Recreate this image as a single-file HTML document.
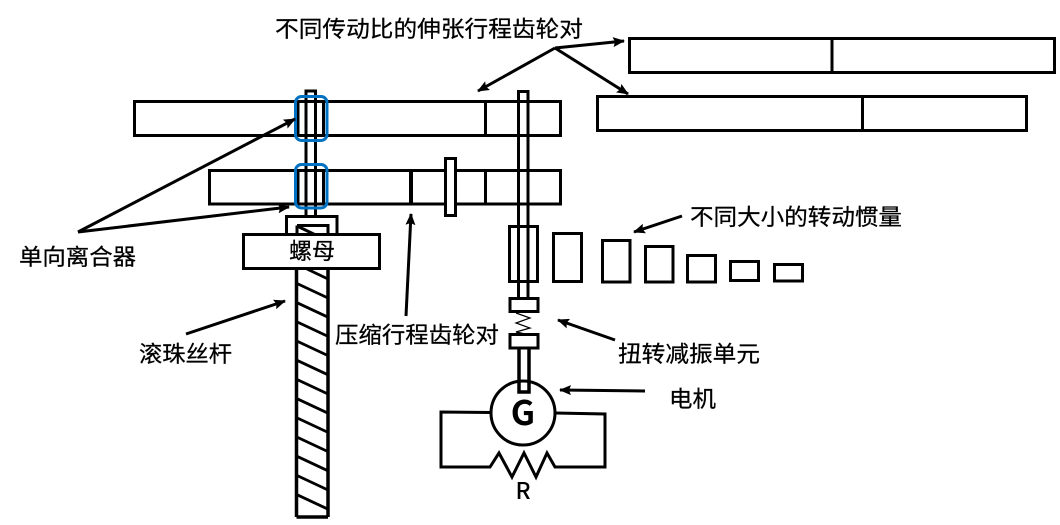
<!DOCTYPE html>
<html><head><meta charset="utf-8"><style>
html,body{margin:0;padding:0;background:#fff}
svg{display:block}
text{font-family:"Liberation Sans","Noto Sans CJK SC",sans-serif;fill:#000;font-size:22.5px;stroke:#000;stroke-width:.25px}
</style></head><body>
<svg width="1060" height="525" viewBox="0 0 1060 525" xmlns="http://www.w3.org/2000/svg">
<defs><marker id="a" markerUnits="userSpaceOnUse" markerWidth="12" markerHeight="10" refX="11" refY="5" orient="auto"><path d="M0 0L12 5L0 10L2 5Z" fill="#000"/></marker></defs>
<g fill="none" stroke="#000" stroke-width="3">
<!-- right stored bars -->
<rect x="629.5" y="38.5" width="425" height="34"/><path d="M832 38V73"/>
<rect x="597.5" y="96.5" width="429" height="34"/><path d="M862.5 96V130"/>
<!-- main bars -->
<rect x="134.5" y="101.5" width="426" height="34"/><path d="M485.5 101V135"/>
<rect x="209.5" y="170.5" width="351" height="33.5"/><path d="M411 170V205" stroke-width="4"/><path d="M485.5 170V204"/>
<rect x="445.5" y="158.5" width="10" height="57" fill="#fff"/>
<!-- left shaft -->
<path d="M306 216V91H315.5V216"/>
<rect x="298" y="101.5" width="25.5" height="34"/>
<rect x="298" y="170.5" width="25.5" height="33.5"/>
<!-- right shaft -->
<path d="M518.5 298V91.5H528V298"/>
<path d="M519 348V392H529V348" stroke-width="3.5"/>
<rect x="509.5" y="226.5" width="28" height="55"/>
<rect x="510" y="298.5" width="28" height="13" stroke-width="3"/>
<rect x="510" y="334.5" width="28" height="13.5" stroke-width="3"/>
<path d="M516 313L530 318L516 323L530 328L516 332L530 335" stroke-width="1.2"/>
<!-- inertia -->
<rect x="553.5" y="233.5" width="28" height="48"/>
<rect x="602.5" y="240.5" width="27.5" height="41.5"/>
<rect x="645.5" y="246.5" width="27.5" height="35.5"/>
<rect x="687.5" y="255.5" width="28" height="26.5"/>
<rect x="730.5" y="261.5" width="28" height="19"/>
<rect x="774.5" y="264.5" width="28" height="16.5"/>
<!-- nut and screw -->
<rect x="286.5" y="216.5" width="50.5" height="19"/>
<path d="M296.5 269V517M328 269V517" stroke-width="3.5"/>
<path d="M297 225.5H328V240M297 225.5V240"/>
<path d="M297 226L322 238"/>
<path d="M296.5 517H328" stroke-width="3.5"/>
<path d="M307 269L328 279M297 283.5L328 298M297 302.7L328 317.2M297 321.9L328 336.4M297 341.1L328 355.6M297 360.3L328 374.8M297 379.5L328 394M297 398.7L328 413.2M297 417.9L328 432.4M297 437.1L328 451.6M297 456.3L328 470.8M297 475.5L328 490M297 494.7L328 509.2" stroke-width="2.8"/>
<rect x="243.5" y="234.5" width="136" height="34" fill="#fff"/>
<!-- generator -->
<path d="M491 412.5L441 412V467H490L499 453L512 477L524 453L536 477L547 453L555 467H605V414L555 413"/>
<circle cx="523" cy="413" r="32"/>
<path d="M519 392V381M529 392V381"/>
<path d="M519 392H529"/>
</g>
<!-- clutches -->
<g fill="none" stroke="#0070c0" stroke-width="3">
<rect x="295.5" y="96.5" width="31.5" height="44" rx="6"/>
<rect x="295.5" y="164.5" width="31.5" height="43.5" rx="6"/>
</g>
<!-- arrows -->
<g fill="none" stroke="#000" stroke-width="3" marker-end="url(#a)">
<path d="M555 48L624 41"/>
<path d="M555 48L478 91"/>
<path d="M555 48L628 94"/>
<path d="M78 232L295 119"/>
<path d="M78 232L289 207"/>
<path d="M186 334L285 301"/>
<path d="M406 316L411 214"/>
<path d="M682 216L634 232"/>
<path d="M615 340L558 320"/>
<path d="M645 391L560 390"/>
</g>
<!-- labels -->
<text x="275" y="37" textLength="308" lengthAdjust="spacingAndGlyphs">不同传动比的伸张行程齿轮对</text>
<text x="19" y="265" textLength="117" lengthAdjust="spacingAndGlyphs">单向离合器</text>
<text x="139" y="362" textLength="93" lengthAdjust="spacingAndGlyphs">滚珠丝杆</text>
<text x="335" y="343" textLength="164" lengthAdjust="spacingAndGlyphs">压缩行程齿轮对</text>
<text x="690" y="225" textLength="212" lengthAdjust="spacingAndGlyphs">不同大小的转动惯量</text>
<text x="618" y="362" textLength="142" lengthAdjust="spacingAndGlyphs">扭转减振单元</text>
<text x="669" y="407" textLength="47" lengthAdjust="spacingAndGlyphs">电机</text>
<text x="289" y="259" textLength="46" lengthAdjust="spacingAndGlyphs">螺母</text>
<text x="523" y="425" text-anchor="middle" style="font-family:'Noto Sans CJK SC',sans-serif;font-size:34px;font-weight:700;stroke:none">G</text>
<text x="523" y="499" text-anchor="middle" style="font-family:'Noto Sans CJK SC',sans-serif;font-size:23px;font-weight:500;stroke:none">R</text>
</svg>
</body></html>
